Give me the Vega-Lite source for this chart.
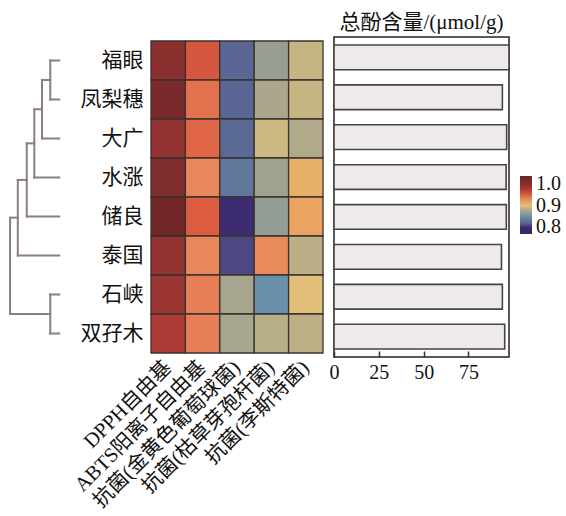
{
  "$schema": "https://vega.github.io/schema/vega-lite/v6.json",
  "padding": {"left": 8, "top": 11, "right": 0, "bottom": 0},
  "spacing": 11,
  "bounds": "flush",
  "center": true,
  "datasets": {
    "heat": [
      {"variety": "福眼", "metric": "DPPH自由基", "value": 0.995},
      {"variety": "凤梨穗", "metric": "DPPH自由基", "value": 1.013},
      {"variety": "大广", "metric": "DPPH自由基", "value": 0.99},
      {"variety": "水涨", "metric": "DPPH自由基", "value": 1.005},
      {"variety": "储良", "metric": "DPPH自由基", "value": 1.025},
      {"variety": "泰国", "metric": "DPPH自由基", "value": 0.99},
      {"variety": "石峡", "metric": "DPPH自由基", "value": 0.985},
      {"variety": "双孖木", "metric": "DPPH自由基", "value": 0.972},
      {"variety": "福眼", "metric": "ABTS阳离子自由基", "value": 0.953},
      {"variety": "凤梨穗", "metric": "ABTS阳离子自由基", "value": 0.94},
      {"variety": "大广", "metric": "ABTS阳离子自由基", "value": 0.945},
      {"variety": "水涨", "metric": "ABTS阳离子自由基", "value": 0.93},
      {"variety": "储良", "metric": "ABTS阳离子自由基", "value": 0.95},
      {"variety": "泰国", "metric": "ABTS阳离子自由基", "value": 0.93},
      {"variety": "石峡", "metric": "ABTS阳离子自由基", "value": 0.934},
      {"variety": "双孖木", "metric": "ABTS阳离子自由基", "value": 0.934},
      {"variety": "福眼", "metric": "抗菌(金黄色葡萄球菌)", "value": 0.82},
      {"variety": "凤梨穗", "metric": "抗菌(金黄色葡萄球菌)", "value": 0.82},
      {"variety": "大广", "metric": "抗菌(金黄色葡萄球菌)", "value": 0.822},
      {"variety": "水涨", "metric": "抗菌(金黄色葡萄球菌)", "value": 0.832},
      {"variety": "储良", "metric": "抗菌(金黄色葡萄球菌)", "value": 0.8},
      {"variety": "泰国", "metric": "抗菌(金黄色葡萄球菌)", "value": 0.81},
      {"variety": "石峡", "metric": "抗菌(金黄色葡萄球菌)", "value": 0.875},
      {"variety": "双孖木", "metric": "抗菌(金黄色葡萄球菌)", "value": 0.876},
      {"variety": "福眼", "metric": "抗菌(枯草芽孢杆菌)", "value": 0.868},
      {"variety": "凤梨穗", "metric": "抗菌(枯草芽孢杆菌)", "value": 0.878},
      {"variety": "大广", "metric": "抗菌(枯草芽孢杆菌)", "value": 0.893},
      {"variety": "水涨", "metric": "抗菌(枯草芽孢杆菌)", "value": 0.871},
      {"variety": "储良", "metric": "抗菌(枯草芽孢杆菌)", "value": 0.866},
      {"variety": "泰国", "metric": "抗菌(枯草芽孢杆菌)", "value": 0.929},
      {"variety": "石峡", "metric": "抗菌(枯草芽孢杆菌)", "value": 0.85},
      {"variety": "双孖木", "metric": "抗菌(枯草芽孢杆菌)", "value": 0.885},
      {"variety": "福眼", "metric": "抗菌(李斯特菌)", "value": 0.89},
      {"variety": "凤梨穗", "metric": "抗菌(李斯特菌)", "value": 0.89},
      {"variety": "大广", "metric": "抗菌(李斯特菌)", "value": 0.881},
      {"variety": "水涨", "metric": "抗菌(李斯特菌)", "value": 0.91},
      {"variety": "储良", "metric": "抗菌(李斯特菌)", "value": 0.917},
      {"variety": "泰国", "metric": "抗菌(李斯特菌)", "value": 0.886},
      {"variety": "石峡", "metric": "抗菌(李斯特菌)", "value": 0.9},
      {"variety": "双孖木", "metric": "抗菌(李斯特菌)", "value": 0.887}
    ],
    "bars": [
      {"variety": "福眼", "tpc": 97.6},
      {"variety": "凤梨穗", "tpc": 93.9},
      {"variety": "大广", "tpc": 96.3},
      {"variety": "水涨", "tpc": 96.0},
      {"variety": "储良", "tpc": 96.1},
      {"variety": "泰国", "tpc": 93.4},
      {"variety": "石峡", "tpc": 93.9},
      {"variety": "双孖木", "tpc": 95.2}
    ],
    "dendro": [
      {"x": 0, "x2": 1.0, "y": 0, "y2": 0},
      {"x": 0, "x2": 1.0, "y": 1, "y2": 1},
      {"x": 1.0, "x2": 1.0, "y": 0, "y2": 1},
      {"x": 1.0, "x2": 1.92, "y": 0.5, "y2": 0.5},
      {"x": 0, "x2": 1.92, "y": 2, "y2": 2},
      {"x": 1.92, "x2": 1.92, "y": 0.5, "y2": 2},
      {"x": 1.92, "x2": 2.78, "y": 1.25, "y2": 1.25},
      {"x": 0, "x2": 2.78, "y": 3, "y2": 3},
      {"x": 2.78, "x2": 2.78, "y": 1.25, "y2": 3},
      {"x": 2.78, "x2": 3.62, "y": 2.125, "y2": 2.125},
      {"x": 0, "x2": 3.62, "y": 4, "y2": 4},
      {"x": 3.62, "x2": 3.62, "y": 2.125, "y2": 4},
      {"x": 3.62, "x2": 4.62, "y": 3.0625, "y2": 3.0625},
      {"x": 0, "x2": 4.62, "y": 5, "y2": 5},
      {"x": 4.62, "x2": 4.62, "y": 3.0625, "y2": 5},
      {"x": 0, "x2": 1.0, "y": 6, "y2": 6},
      {"x": 0, "x2": 1.0, "y": 7, "y2": 7},
      {"x": 1.0, "x2": 1.0, "y": 6, "y2": 7},
      {"x": 4.62, "x2": 5.48, "y": 4.03, "y2": 4.03},
      {"x": 1.0, "x2": 5.48, "y": 6.5, "y2": 6.5},
      {"x": 5.48, "x2": 5.48, "y": 4.03, "y2": 6.5}
    ]
  },
  "hconcat": [
    {
      "width": 131,
      "height": 312,
      "data": {"name": "dendro"},
      "mark": {"type": "rule", "color": "#8a7f7c", "strokeWidth": 2, "strokeCap": "square"},
      "encoding": {
        "x": {"field": "x", "type": "quantitative", "axis": null, "scale": {"domain": [-9, 5.6], "reverse": true, "nice": false, "zero": false}},
        "x2": {"field": "x2"},
        "y": {"field": "y", "type": "quantitative", "axis": null, "scale": {"domain": [-0.5, 7.5], "reverse": true, "nice": false, "zero": false}},
        "y2": {"field": "y2"}
      }
    },
    {
      "width": 172,
      "height": 312,
      "data": {"name": "heat"},
      "mark": {"type": "rect", "stroke": "#3a3230", "strokeWidth": 1.3},
      "encoding": {
        "x": {"field": "metric", "type": "nominal", "sort": ["DPPH自由基", "ABTS阳离子自由基", "抗菌(金黄色葡萄球菌)", "抗菌(枯草芽孢杆菌)", "抗菌(李斯特菌)"], "scale": {"paddingInner": 0, "paddingOuter": 0}, "axis": {"title": null, "labelAngle": -45, "labelAlign": "right", "labelBaseline": "middle", "labelPadding": 11, "labelLimit": 0, "labelFontSize": 20.5, "ticks": false, "domain": false}},
        "y": {"field": "variety", "type": "nominal", "sort": ["福眼", "凤梨穗", "大广", "水涨", "储良", "泰国", "石峡", "双孖木"], "scale": {"paddingInner": 0, "paddingOuter": 0}, "axis": {"title": null, "labelPadding": 8, "labelFontSize": 21, "ticks": false, "domain": false}},
        "color": {
          "field": "value", "type": "quantitative",
          "scale": {
            "domain": [0.77, 0.80, 0.82, 0.85, 0.87, 0.885, 0.90, 0.915, 0.93, 0.95, 0.97, 1.0, 1.035],
            "range": ["#3a2468", "#3e2c70", "#5a6694", "#6890a8", "#9ea090", "#b8ae88", "#e2c07a", "#eaa860", "#e8885a", "#dc5c42", "#b03c36", "#842e2e", "#6a2424"],
            "interpolate": "rgb"
          },
          "legend": {"title": null, "orient": "none", "legendX": 511, "legendY": 139, "values": [0.8, 0.9, 1.0], "format": ".1f", "gradientLength": 58, "gradientThickness": 12, "gradientStrokeWidth": 0, "labelFontSize": 20, "labelOffset": 4, "labelColor": "#111"}
        }
      }
    },
    {
      "width": 175,
      "height": 320,
      "data": {"name": "bars"},
      "title": {"text": "总酚含量/(μmol/g)", "fontSize": 21, "fontWeight": "normal", "offset": 4, "color": "#111"},
      "view": {"stroke": "#222", "strokeWidth": 1.5},
      "mark": {"type": "bar", "fill": "#efeaea", "stroke": "#4a4242", "strokeWidth": 1.6},
      "encoding": {
        "y": {"field": "variety", "type": "nominal", "sort": ["福眼", "凤梨穗", "大广", "水涨", "储良", "泰国", "石峡", "双孖木"], "scale": {"paddingInner": 0.38, "paddingOuter": 0.2}, "axis": null},
        "x": {"field": "tpc", "type": "quantitative", "scale": {"domain": [0, 97.6], "nice": false, "zero": true}, "axis": {"title": null, "values": [0, 25, 50, 75], "ticks": true, "tickSize": -6, "tickColor": "#333", "tickWidth": 1.5, "labelPadding": 11, "labelFlush": false, "domain": false, "grid": false}}
      }
    }
  ],
  "config": {
    "font": "'Liberation Serif', 'Noto Sans CJK SC', serif",
    "view": {"stroke": null},
    "axis": {"labelFont": "'Liberation Serif', 'Noto Sans CJK SC', serif", "labelFontSize": 20, "labelColor": "#111", "grid": false},
    "legend": {"labelFont": "'Liberation Serif', 'Noto Sans CJK SC', serif"},
    "title": {"font": "'Liberation Serif', 'Noto Sans CJK SC', serif"}
  }
}
